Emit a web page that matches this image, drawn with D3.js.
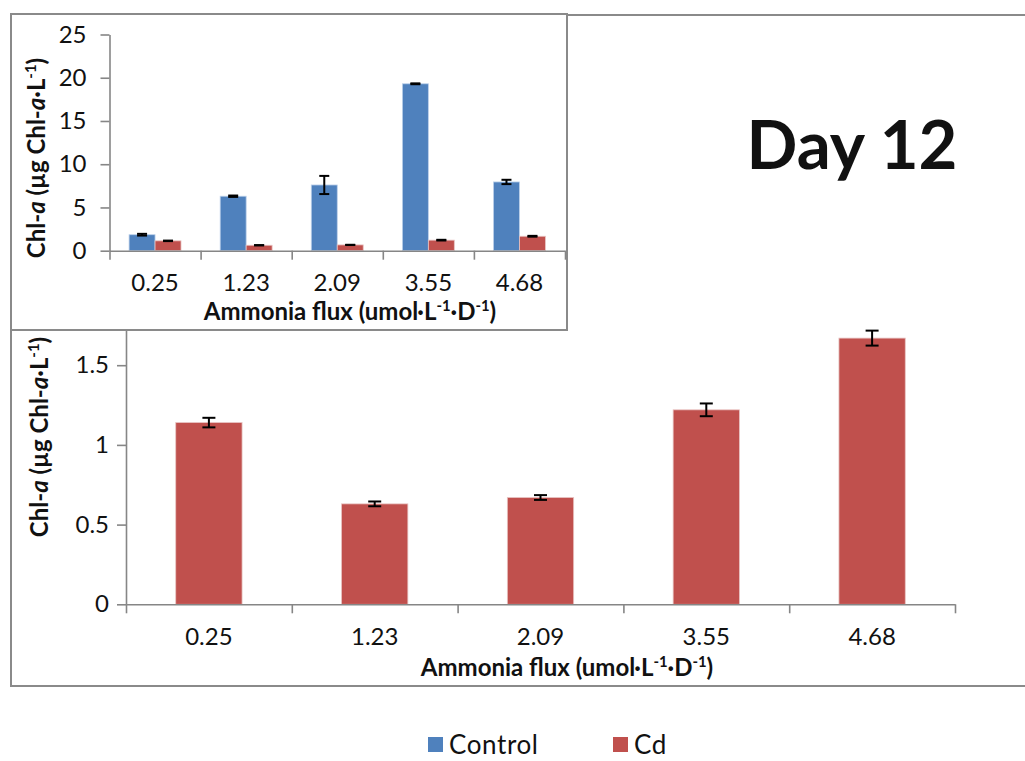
<!DOCTYPE html>
<html>
<head>
<meta charset="utf-8">
<script src="https://cdn.jsdelivr.net/npm/d3@7"></script>
<style>
  html, body { margin: 0; padding: 0; background: #fff; }
  svg { display: block; }
  text { font-family: Lato, "Open Sans", sans-serif; fill: #111; }
</style>
</head>
<body>
<svg id="chart" width="1025" height="761"></svg>
<script>
// Ammonia flux levels (µmol·L⁻¹·D⁻¹)
const categories = ["0.25", "1.23", "2.09", "3.55", "4.68"];
// Chl-a, Control series (µg Chl-a·L⁻¹)
const controlMeans = [1.85, 6.3, 7.6, 19.3, 7.95];
const controlErr = [0.1, 0.08, 1.05, 0.05, 0.25];
// Chl-a, Cd series (µg Chl-a·L⁻¹)
const cdMeans = [1.14, 0.63, 0.67, 1.22, 1.67];
const cdErr = [0.03, 0.015, 0.015, 0.04, 0.047];
// Axis tick values
const insetTicks = [0, 5, 10, 15, 20, 25];
const mainTicks = [0, 0.5, 1, 1.5];
const seriesNames = ["Control", "Cd"];

const colors = { Control: "#4F81BD", Cd: "#C0504D" };
const axisColor = "#868686";
const frameColor = "#8a8a8a";
const tickFont = 24;
const titleFont = 24;

const svg = d3.select("#chart");

function styleAxis(g) {
  g.selectAll(".domain").attr("stroke", axisColor).attr("stroke-width", 1.6);
  g.selectAll(".tick line").attr("stroke", axisColor).attr("stroke-width", 1.6);
  g.selectAll(".tick text").attr("fill", "#111");
}

// Y-axis title: Chl-a (µg Chl-a·L⁻¹)
function yTitle(g, x, y, size) {
  const t = g.append("text")
    .attr("transform", `translate(${x},${y}) rotate(-90)`)
    .attr("text-anchor", "middle")
    .attr("font-weight", "bold")
    .attr("font-size", size);
  t.append("tspan").text("Chl-");
  t.append("tspan").attr("font-style", "italic").text("a");
  t.append("tspan").text(" (µg Chl-");
  t.append("tspan").attr("font-style", "italic").text("a");
  t.append("tspan").text("·L");
  t.append("tspan").attr("font-size", size * 0.62).attr("dy", -size * 0.38).text("-1");
  t.append("tspan").attr("dy", size * 0.38).text(")");
}

// X-axis title: Ammonia flux (umol·L⁻¹·D⁻¹)
function xTitle(g, x, y, size) {
  const t = g.append("text")
    .attr("x", x).attr("y", y)
    .attr("text-anchor", "middle")
    .attr("font-weight", "bold")
    .attr("font-size", size);
  const sup = size * 0.62, up = size * 0.38;
  t.append("tspan").text("Ammonia flux (umol·L");
  t.append("tspan").attr("font-size", sup).attr("dy", -up).text("-1");
  t.append("tspan").attr("dy", up).text("·D");
  t.append("tspan").attr("font-size", sup).attr("dy", -up).text("-1");
  t.append("tspan").attr("dy", up).text(")");
}

function errorBars(g, xs, ys, means, errs, cap, sw) {
  const eb = g.append("g").attr("stroke", "#000").attr("stroke-width", sw);
  means.forEach((m, i) => {
    const cx = xs(i);
    const y1 = ys(m + errs[i]), y0 = ys(m - errs[i]);
    eb.append("line").attr("x1", cx).attr("x2", cx).attr("y1", y1).attr("y2", y0);
    eb.append("line").attr("x1", cx - cap / 2).attr("x2", cx + cap / 2).attr("y1", y1).attr("y2", y1);
    eb.append("line").attr("x1", cx - cap / 2).attr("x2", cx + cap / 2).attr("y1", y0).attr("y2", y0);
  });
}

// ---------- Main chart: Cd series ----------
const main = svg.append("g");
main.append("rect")
  .attr("x", 11).attr("y", 15).attr("width", 1030).attr("height", 671)
  .attr("fill", "#fff").attr("stroke", frameColor).attr("stroke-width", 2);

const mx = d3.scaleBand().domain(categories).range([126, 955]).paddingInner(0.6).paddingOuter(0.3);
const mxEdges = d3.scaleLinear().domain([0, categories.length]).range([126, 955]);
const my = d3.scaleLinear().domain([0, 2]).range([604.3, 285.5]);

main.append("g")
  .attr("transform", "translate(126,0)")
  .call(d3.axisLeft(my).tickValues(mainTicks).tickSize(9).tickSizeOuter(0).tickPadding(8)
    .tickFormat(d => String(d)))
  .call(g => g.selectAll(".tick text").attr("font-size", tickFont).attr("font-family", "Lato"))
  .call(styleAxis);

main.selectAll("rect.cd")
  .data(cdMeans)
  .join("rect")
  .attr("class", "cd")
  .attr("x", (d, i) => mx(categories[i]))
  .attr("width", mx.bandwidth())
  .attr("y", d => my(d))
  .attr("height", d => my(0) - my(d))
  .attr("fill", colors.Cd)
  .attr("stroke", "#e8c4c3").attr("stroke-width", 0.8);

errorBars(main, i => mx(categories[i]) + mx.bandwidth() / 2, my, cdMeans, cdErr, 13, 2);

main.append("g")
  .attr("transform", `translate(0,${my(0)})`)
  .call(d3.axisBottom(mxEdges).tickValues(d3.range(categories.length + 1)).tickSize(9).tickSizeOuter(0).tickFormat(""))
  .call(styleAxis);

main.append("g")
  .attr("transform", `translate(0,${my(0)})`)
  .call(d3.axisBottom(mx).tickSize(0).tickPadding(24))
  .call(g => g.select(".domain").remove())
  .call(g => g.selectAll(".tick text").attr("font-size", tickFont).attr("font-family", "Lato").attr("fill", "#111"));

xTitle(main, 567, 676, titleFont);
yTitle(main, 48, 437, titleFont);

// ---------- Inset chart: Control and Cd ----------
const inset = svg.append("g");
inset.append("rect")
  .attr("x", 11).attr("y", 14).attr("width", 556).attr("height", 316)
  .attr("fill", "#fff").attr("stroke", frameColor).attr("stroke-width", 2);

const ix = d3.scaleBand().domain(categories).range([109.5, 565]).paddingInner(0.43).paddingOuter(0.215);
const ixSeries = d3.scaleBand().domain(seriesNames).range([0, ix.bandwidth()]);
const ixEdges = d3.scaleLinear().domain([0, categories.length]).range([109.5, 565]);
const iy = d3.scaleLinear().domain([0, 25]).range([250.7, 34.5]);

inset.append("g")
  .attr("transform", "translate(109.5,0)")
  .call(d3.axisLeft(iy).tickValues(insetTicks).tickSize(9).tickSizeOuter(0).tickPadding(14))
  .call(g => g.selectAll(".tick text").attr("font-size", tickFont).attr("font-family", "Lato"))
  .call(styleAxis);

const seriesData = [
  { name: "Control", means: controlMeans, errs: controlErr },
  { name: "Cd", means: cdMeans, errs: cdErr }
];

seriesData.forEach(s => {
  inset.append("g").selectAll("rect")
    .data(s.means)
    .join("rect")
    .attr("x", (d, i) => ix(categories[i]) + ixSeries(s.name))
    .attr("width", ixSeries.bandwidth())
    .attr("y", d => iy(d))
    .attr("height", d => iy(0) - iy(d))
    .attr("fill", colors[s.name])
    .attr("stroke", s.name === "Control" ? "#bcd0ea" : "#e8c4c3").attr("stroke-width", 0.8);
  errorBars(inset, i => ix(categories[i]) + ixSeries(s.name) + ixSeries.bandwidth() / 2,
    iy, s.means, s.errs, 10, 2);
});

inset.append("g")
  .attr("transform", `translate(0,${iy(0)})`)
  .call(d3.axisBottom(ixEdges).tickValues(d3.range(categories.length + 1)).tickSize(9).tickSizeOuter(0).tickFormat(""))
  .call(styleAxis);

inset.append("g")
  .attr("transform", `translate(0,${iy(0)})`)
  .call(d3.axisBottom(ix).tickSize(0).tickPadding(23))
  .call(g => g.select(".domain").remove())
  .call(g => g.selectAll(".tick text").attr("font-size", tickFont).attr("font-family", "Lato").attr("fill", "#111"));

xTitle(inset, 350, 320, titleFont);
yTitle(inset, 45, 158, titleFont);

// ---------- Day label ----------
svg.append("text")
  .attr("x", 852).attr("y", 169)
  .attr("text-anchor", "middle")
  .attr("font-weight", "bold")
  .attr("font-size", 67)
  .attr("fill", "#000")
  .text("Day 12");

// ---------- Legend ----------
const legend = svg.append("g");
const legendX = [428, 613];
seriesNames.forEach((name, i) => {
  legend.append("rect")
    .attr("x", legendX[i]).attr("y", 737).attr("width", 15).attr("height", 15)
    .attr("fill", colors[name]);
  legend.append("text")
    .attr("x", legendX[i] + 21).attr("y", 754)
    .attr("font-size", 26)
    .attr("letter-spacing", 0.6)
    .attr("fill", "#333")
    .text(name);
});
</script>
</body>
</html>
